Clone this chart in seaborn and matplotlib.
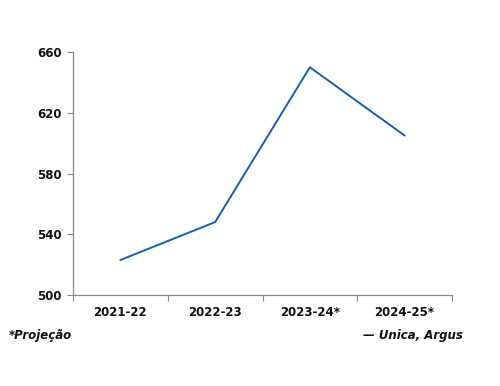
import pandas as pd
import numpy as np
import matplotlib.pyplot as plt
import seaborn as sns

safras = ["2021-22", "2022-23", "2023-24*", "2024-25*"]
valores = [523, 548, 650, 605]
y_ticks = [500, 540, 580, 620, 660]

df = pd.DataFrame({"safra": safras, "valor": valores})

sns.set_style("white")
plt.rcParams["font.family"] = ["DejaVu Sans"]

fig = plt.figure(figsize=(5, 3.86), dpi=100)
ax = fig.add_axes([0.146, 0.236, 0.758, 0.629])

sns.lineplot(data=df, x="safra", y="valor", ax=ax, color="#1a5ea8",
             linewidth=1.4, sort=False)

ax.set_xlim(-0.5, len(safras) - 0.5)
ax.set_ylim(500, 660)
ax.set_yticks(y_ticks)
ax.set_xlabel("")
ax.set_ylabel("")

# category boundaries as minor ticks
ax.set_xticks(np.arange(-0.5, len(safras), 1), minor=True)
ax.tick_params(axis="x", which="major", length=0, pad=8)
ax.tick_params(axis="x", which="minor", length=4, color="#888888", width=0.8,
               direction="out", bottom=True)
ax.tick_params(axis="y", length=4, color="#888888", width=0.8, direction="out",
               left=True, pad=4)

for lab in ax.get_xticklabels() + ax.get_yticklabels():
    lab.set_fontsize(8.5)
    lab.set_fontweight("bold")
    lab.set_color("#111111")

for s in ["top", "right"]:
    ax.spines[s].set_visible(False)
for s in ["left", "bottom"]:
    ax.spines[s].set_color("#888888")
    ax.spines[s].set_linewidth(0.9)

fig.text(0.018, 0.122, "*Projeção", fontsize=8.5, fontstyle="italic",
         fontweight="bold", color="#111111")
fig.text(0.926, 0.122, "— Unica, Argus", fontsize=8.5, fontstyle="italic",
         fontweight="bold", color="#111111", ha="right")

fig.savefig("out.png", dpi=100)
